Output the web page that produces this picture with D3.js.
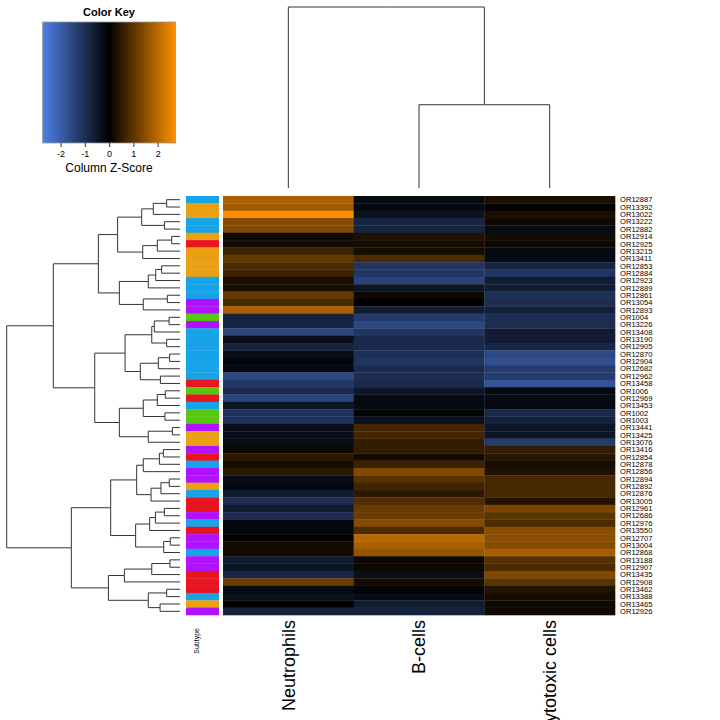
<!DOCTYPE html>
<html>
<head>
<meta charset="utf-8">
<script src="https://cdn.jsdelivr.net/npm/d3@7"></script>
<style>
  body { margin: 0; background: #fff; }
  text { font-family: "Liberation Sans", Arial, sans-serif; }
</style>
</head>
<body>
<div id="chart"></div>
<script>
// columns and rows
var colNames = ["Neutrophils", "B-cells", "Cytotoxic cells"];
var rowLabels = ["OR12887","OR13392","OR13022","OR13222","OR12882","OR12914","OR12925","OR13215","OR13411","OR12853",
  "OR12884","OR12923","OR12889","OR12861","OR13054","OR12893","OR1004","OR13226","OR13408","OR13190",
  "OR12905","OR12870","OR12904","OR12682","OR12962","OR13458","OR1006","OR12969","OR13453","OR1002",
  "OR1003","OR13441","OR13425","OR13076","OR13416","OR12854","OR12878","OR12856","OR12894","OR12892",
  "OR12876","OR13005","OR12961","OR12686","OR12976","OR13550","OR12707","OR13004","OR12868","OR13188",
  "OR12907","OR13435","OR12908","OR13462","OR13388","OR13465","OR12926"];

// subtype per row (side colour bar)
var subtype = ["B","O","O","B","B","O","R","O","O","O","O","B","B","B","P","P","G","P","B","B",
  "B","B","B","B","B","R","G","R","B","G","G","P","O","O","P","R","B","P","P","O",
  "B","R","R","P","B","R","P","P","B","P","P","R","R","R","B","O","P"];
var subtypeKeys = ["B","O","R","P","G"];
var subtypeColors = ["#17a3e8","#eba013","#e8141f","#b012ff","#56c812"];

// column z-scores
var neutrophils = [1.83,1.72,2.72,1.42,1.40,0.15,0.20,0.65,1.05,0.80,0.65,0.25,0.25,1.08,0.80,1.80,-0.78,-0.80,-1.50,-0.27,
  -0.78,-0.30,-0.15,-0.15,-1.57,-1.20,-0.90,-1.50,-0.45,-1.08,-1.08,-0.27,-0.27,-0.27,0.16,0.44,0.24,0.46,-0.24,-0.15,
  -0.58,-0.96,-0.60,-0.96,-0.15,-0.15,0.00,0.22,0.22,-0.58,-0.42,-0.82,1.15,-0.22,-0.36,0.00,-0.70];
var bcells = [-0.20,-0.20,-0.38,-0.78,-0.78,0.33,0.22,0.22,0.82,-1.14,-1.16,-1.45,-0.46,0.16,0.00,-0.60,-1.27,-1.57,-1.14,-0.90,
  -0.90,-1.02,-1.14,-0.90,-0.98,-0.90,-0.46,-0.22,-0.22,-0.06,-0.36,0.72,0.72,0.55,0.55,0.22,0.63,1.37,0.93,0.71,
  0.46,0.88,1.10,1.15,1.43,0.82,1.98,1.81,1.60,0.13,0.13,-0.30,0.22,-0.06,-0.24,-0.60,-0.70];
var cytotoxic = [0.27,0.02,0.27,0.16,-0.22,0.22,0.13,-0.22,-0.22,-0.78,-1.14,-0.58,-0.58,-1.02,-0.96,-0.66,-0.96,-0.96,-0.58,-0.58,
  -0.84,-1.57,-1.69,-1.27,-1.27,-1.80,-0.18,-0.24,-0.18,-0.87,-0.70,-0.46,-0.46,-1.27,0.55,0.42,0.24,0.33,0.77,0.77,
  0.77,0.38,1.32,0.99,0.82,1.48,1.48,1.43,1.81,0.93,0.82,1.37,0.99,0.38,0.24,0.16,0.16];

var keyTicks = [-2, -1, 0, 1, 2];
var zMax = 2.74;

// dendrograms: [left, right, height], leaves are row / column indices
var rowTree = [
  [
    [
      [[[[0,1,0.77],2,1.54],[3,4,0.90],2.21], [[[5,6,0.48],7,1.31],8,2.15], 3.60],
      [[[[9,10,1.06],11,1.40],12,1.83], [[13,14,0.73],15,2.12], 3.50],
      4.71
    ],
    [
      [[[[16,17,0.63],18,1.48],[19,20,0.77],1.63], [[[21,22,0.60],23,1.25],[24,25,1.13],2.29], 3.17],
      [[[[26,27,0.85],28,1.31],[29,30,0.87],2.12], [[31,32,0.44],33,1.83], 3.50],
      4.92
    ],
    7.31
  ],
  [
    [
      [[[[34,35,0.96],36,1.19],37,2.12], [[[38,39,0.62],40,1.10],41,1.67], 2.50],
      [[[[42,43,0.90],44,1.42],45,1.75], [[46,47,0.56],48,0.94], 2.56],
      4.00
    ],
    [[[[49,50,0.58],51,1.63],52,3.21], [[53,54,0.77],[55,56,1.15],1.83], 4.13],
    6.27
  ],
  10.0
];
var colTree = [0, [1, 2, 4.6], 10.0];

var width = 720, height = 720;
var svg = d3.select("#chart").append("svg")
  .attr("width", width).attr("height", height)
  .style("background", "#fff");

var color = d3.scaleLinear()
  .domain([-zMax, 0, zMax])
  .range(["#4f80e8", "#000000", "#ff9000"])
  .clamp(true);

var y = d3.scaleBand().domain(d3.range(rowLabels.length)).range([196, 615]);
var x = d3.scaleBand().domain(colNames).range([223, 615]);
var side = d3.scaleOrdinal().domain(subtypeKeys).range(subtypeColors);

var columns = [neutrophils, bcells, cytotoxic];
var cells = [];
columns.forEach(function (vals, j) {
  vals.forEach(function (v, i) { cells.push({ col: colNames[j], row: i, z: v }); });
});

// heatmap cells
svg.append("g").selectAll("rect").data(cells).enter().append("rect")
  .attr("x", function (d) { return x(d.col); })
  .attr("y", function (d) { return y(d.row); })
  .attr("width", x.bandwidth() + 0.3)
  .attr("height", y.bandwidth() + 0.3)
  .attr("fill", function (d) { return color(d.z); });

// side colours
svg.append("g").selectAll("rect").data(subtype).enter().append("rect")
  .attr("x", 186).attr("width", 33)
  .attr("y", function (d, i) { return y(i); })
  .attr("height", y.bandwidth() + 0.3)
  .attr("fill", function (d) { return side(d); });

// row labels
svg.append("g").selectAll("text").data(rowLabels).enter().append("text")
  .attr("x", 620)
  .attr("y", function (d, i) { return y(i) + y.bandwidth() / 2; })
  .attr("dy", "0.36em")
  .style("font-size", "7.6px")
  .text(function (d) { return d; });

// column labels
svg.append("g").selectAll("text").data(colNames).enter().append("text")
  .attr("transform", function (d) { return "translate(" + (x(d) + x.bandwidth() / 2) + ",620) rotate(-90)"; })
  .attr("text-anchor", "end")
  .attr("dy", "0.36em")
  .style("font-size", "18px")
  .text(function (d) { return d; });

svg.append("text")
  .attr("transform", "translate(196,628) rotate(-90)")
  .attr("text-anchor", "end")
  .attr("dy", "0.36em")
  .style("font-size", "7px")
  .text("Subtype");

// dendrogram helper
function layout(node, pos) {
  if (typeof node === "number") return { p: pos(node), h: 0 };
  var a = layout(node[0], pos), b = layout(node[1], pos);
  return { p: (a.p + b.p) / 2, h: node[2], kids: [a, b] };
}
function segments(n, out) {
  if (!n.kids) return out;
  n.kids.forEach(function (k) { out.push({ p1: n.p, p2: k.p, h1: n.h, h2: k.h }); segments(k, out); });
  return out;
}

// row dendrogram
var rh = d3.scaleLinear().domain([0, 10]).range([180, 6.7]);
var rroot = layout(rowTree, function (i) { return y(i) + y.bandwidth() / 2; });
svg.append("g").selectAll("path").data(segments(rroot, [])).enter().append("path")
  .attr("d", function (s) {
    return "M" + rh(s.h1) + "," + s.p1 + "V" + s.p2 + "H" + rh(s.h2);
  })
  .attr("fill", "none").attr("stroke", "#333").attr("stroke-width", 1);

// column dendrogram
var ch = d3.scaleLinear().domain([0, 10]).range([188, 7]);
var croot = layout(colTree, function (j) { return x(colNames[j]) + x.bandwidth() / 2; });
svg.append("g").selectAll("path").data(segments(croot, [])).enter().append("path")
  .attr("d", function (s) {
    return "M" + s.p1 + "," + ch(s.h1) + "H" + s.p2 + "V" + ch(s.h2);
  })
  .attr("fill", "none").attr("stroke", "#333").attr("stroke-width", 1);

// colour key
var kx = d3.scaleLinear().domain([-zMax, zMax]).range([42.6, 175.6]);
var grad = svg.append("defs").append("linearGradient").attr("id", "keygrad");
[-zMax, 0, zMax].forEach(function (v) {
  grad.append("stop")
    .attr("offset", (kx(v) - kx(-zMax)) / (kx(zMax) - kx(-zMax)))
    .attr("stop-color", color(v));
});
var key = svg.append("g");
key.append("rect")
  .attr("x", kx(-zMax)).attr("y", 22)
  .attr("width", kx(zMax) - kx(-zMax)).attr("height", 121)
  .attr("fill", "url(#keygrad)")
  .attr("stroke", "#999").attr("stroke-width", 0.8);
key.append("text")
  .attr("x", 109).attr("y", 16)
  .attr("text-anchor", "middle")
  .style("font-size", "11px").style("font-weight", "bold")
  .text("Color Key");
var kaxis = key.append("g").attr("transform", "translate(0,143)")
  .call(d3.axisBottom(kx).tickValues(keyTicks).tickSize(4).tickFormat(function (d) { return String(d); }));
kaxis.select(".domain").remove();
kaxis.selectAll("line").attr("stroke", "#333");
kaxis.selectAll("text").style("font-size", "9px").attr("y", 8)
  .style("font-family", "Liberation Sans, Arial, sans-serif");
key.append("text")
  .attr("x", 109).attr("y", 172)
  .attr("text-anchor", "middle")
  .style("font-size", "12px")
  .text("Column Z-Score");
</script>
</body>
</html>
